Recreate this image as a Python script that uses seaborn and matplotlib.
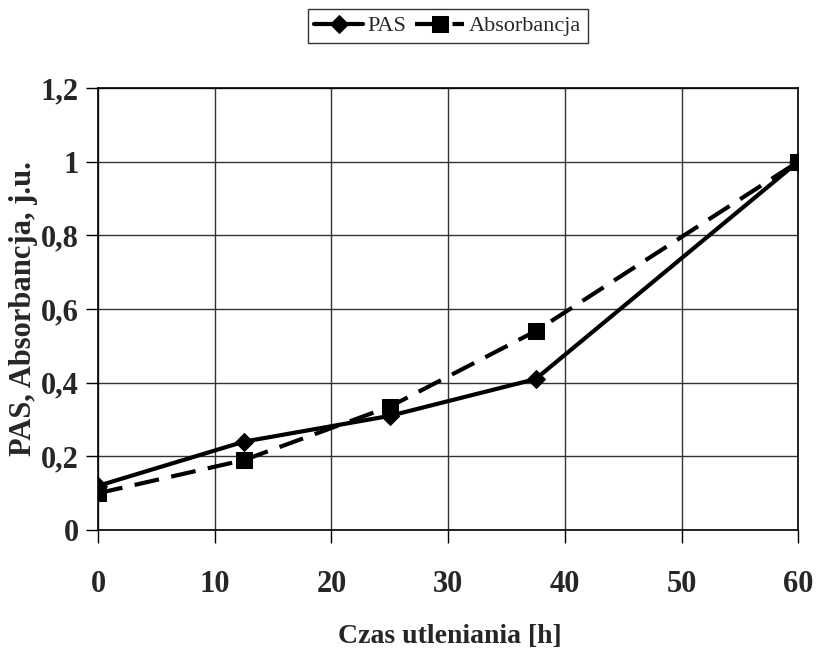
import matplotlib
matplotlib.use("Agg")
import matplotlib.pyplot as plt
import seaborn as sns
import pandas as pd

czas = [0, 12.5, 25, 37.5, 60]
pas = [0.12, 0.24, 0.31, 0.41, 1.0]
absorbancja = [0.10, 0.19, 0.335, 0.54, 1.0]
x_ticks = [0, 10, 20, 30, 40, 50, 60]
y_ticks = [0, 0.2, 0.4, 0.6, 0.8, 1.0, 1.2]
y_labels = ["0", "0,2", "0,4", "0,6", "0,8", "1", "1,2"]

sns.set_theme(style="white")
plt.rcParams['font.family'] = ['Liberation Serif', 'DejaVu Serif']

fig = plt.figure(figsize=(8.17, 6.52), dpi=100)
ax = fig.add_axes([0.120, 0.187, 0.857, 0.678])

df_pas = pd.DataFrame({"x": czas, "y": pas})
df_abs = pd.DataFrame({"x": czas, "y": absorbancja})

sns.lineplot(data=df_pas, x="x", y="y", ax=ax, color="black", lw=3,
             marker="D", markersize=9, markeredgecolor="black", label="PAS", zorder=4)
sns.lineplot(data=df_abs, x="x", y="y", ax=ax, color="black", lw=3,
             marker="s", markersize=11, markeredgecolor="black", label="Absorbancja",
             zorder=3)
ax.lines[1].set_dashes([6, 3])

ax.set_xlim(0, 60)
ax.set_ylim(0, 1.2)
ax.set_xticks(x_ticks)
ax.set_yticks(y_ticks)
ax.set_yticklabels(y_labels)
ax.grid(True, color="#333333", lw=1)
for s in ax.spines.values():
    s.set_color("black")
    s.set_linewidth(1.2)
ax.tick_params(axis="both", direction="out", length=9, width=1, color="black",
               bottom=True, left=True, labelsize=22, pad=5)
ax.tick_params(axis="x", pad=20)
for lab in ax.get_xticklabels() + ax.get_yticklabels():
    lab.set_fontweight("bold")

ax.set_xlabel("Czas utleniania [h]", fontsize=20, fontweight="bold", va="center")
ax.xaxis.set_label_coords(0.503, -0.24)
ax.set_ylabel("PAS, Absorbancja, j.u.", fontsize=22, fontweight="bold", va="center")
ax.yaxis.set_label_coords(-0.106, 0.50)

ax.get_legend().remove()
handles, labels = ax.get_legend_handles_labels()
leg = fig.legend(handles, labels, loc="center", bbox_to_anchor=(0.548, 0.960), ncol=2,
                 frameon=True, fancybox=False, edgecolor="black", fontsize=16,
                 handlelength=2.2, columnspacing=0.4, handletextpad=0.2,
                 borderpad=0.3, borderaxespad=0)
leg.get_frame().set_linewidth(1)

fig.savefig("out.png", dpi=100)
